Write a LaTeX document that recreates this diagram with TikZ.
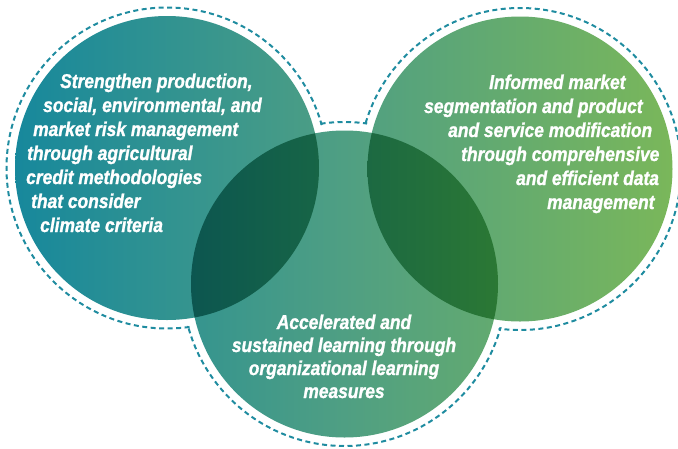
\documentclass[tikz,border=0pt]{standalone}
\usepackage{fontspec}
\setmainfont{Liberation Sans}[FakeStretch=0.87,FakeBold=1.2]
\definecolor{cA}{HTML}{17889C}
\definecolor{cB}{HTML}{4F9F83}
\definecolor{cC}{HTML}{7AB75A}
\definecolor{lensLa}{HTML}{0C5650}
\definecolor{lensLb}{HTML}{176546}
\definecolor{lensRa}{HTML}{1C6942}
\definecolor{lensRb}{HTML}{2B7834}
\definecolor{dashc}{HTML}{1F8CA0}
\pgfdeclarehorizontalshading{mainshade}{100bp}{color(0bp)=(cA); color(25bp)=(cA); color(50bp)=(cB); color(75bp)=(cC); color(100bp)=(cC)}
\begin{document}
\begin{tikzpicture}[x=1pt,y=-1pt,
  txt/.style={text=white,font=\fontsize{20}{24}\selectfont\bfseries\itshape,inner sep=0pt},
  dashring/.style={draw=dashc,line width=2pt,dash pattern=on 5pt off 3.5pt}]
\useasboundingbox (0,0) rectangle (678,448);
\fill[white] (0,0) rectangle (678,448);
\coordinate (L) at (167,168);
\coordinate (R) at (520,169);
\coordinate (B) at (344.5,284);
% dashed outline
\draw[dashring] (L) circle (160.5);
\draw[dashring] (R) circle (161);
\draw[dashring] (B) circle (162);
\fill[white] (L) circle (158.8) (R) circle (159.3) (B) circle (160.3);
% main circles
\shade[shading=mainshade] (L) circle (152) (R) circle (152.5) (B) circle (153.5);
% lenses
\begin{scope}
  \clip (L) circle (152);
  \clip (B) circle (153.5);
  \shade[left color=lensLa,right color=lensLb] (190,0) rectangle (320,448);
\end{scope}
\begin{scope}
  \clip (R) circle (152.5);
  \clip (B) circle (153.5);
  \shade[left color=lensRa,right color=lensRb] (367,0) rectangle (499,448);
\end{scope}
% left text
\node[txt,anchor=base west] (l1) at (60,88) {Strengthen production,};
\node[txt,anchor=base west] (l2) at (43,112) {social, environmental, and};
\node[txt,anchor=base west] (l3) at (33,136) {market risk management};
\node[txt,anchor=base west] (l4) at (27,160) {through agricultural};
\node[txt,anchor=base west] (l5) at (26,184) {credit methodologies};
\node[txt,anchor=base west] (l6) at (31,208) {that consider};
\node[txt,anchor=base west] (l7) at (40,232) {climate criteria};
% right text
\node[txt,anchor=base west] (r1) at (489,89) {Informed market};
\node[txt,anchor=base west] (r2) at (424,113) {segmentation and product};
\node[txt,anchor=base west] (r3) at (448,137) {and service modification};
\node[txt,anchor=base west] (r4) at (461,161) {through comprehensive};
\node[txt,anchor=base west] (r5) at (516,185) {and efficient data};
\node[txt,anchor=base west] (r6) at (547,209) {management};
% bottom text
\node[txt,anchor=base] (b1) at (344,329) {Accelerated and};
\node[txt,anchor=base] (b2) at (344,352) {sustained learning through};
\node[txt,anchor=base] (b3) at (344,375) {organizational learning};
\node[txt,anchor=base] (b4) at (344,398) {measures};
\end{tikzpicture}
\end{document}
